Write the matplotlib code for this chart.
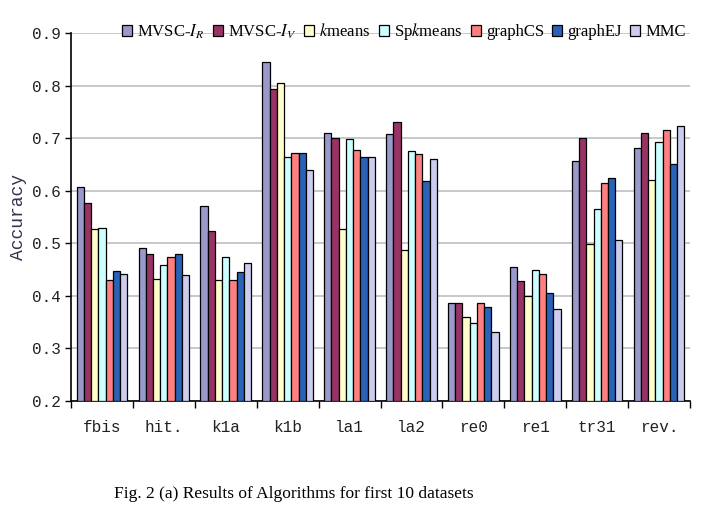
import matplotlib
matplotlib.use("Agg")
import matplotlib.pyplot as plt
import numpy as np

datasets = ["fbis", "hit.", "k1a", "k1b", "la1", "la2", "re0", "re1", "tr31", "rev."]
algorithms = ["MVSC-$I_R$", "MVSC-$I_V$", "$k$means", "Sp$k$means", "graphCS", "graphEJ", "MMC"]
colors = ["#9999CC", "#993366", "#FFFFCC", "#CCFFFF", "#FF8080", "#2A62B8", "#CCCCEE"]

mvsc_ir  = [0.607, 0.491, 0.571, 0.845, 0.709, 0.707, 0.386, 0.455, 0.657, 0.681]
mvsc_iv  = [0.576, 0.479, 0.523, 0.794, 0.700, 0.731, 0.386, 0.428, 0.700, 0.710]
kmeans   = [0.527, 0.433, 0.431, 0.804, 0.527, 0.488, 0.360, 0.399, 0.499, 0.620]
spkmeans = [0.530, 0.459, 0.474, 0.664, 0.698, 0.676, 0.348, 0.449, 0.566, 0.693]
graphcs  = [0.431, 0.474, 0.431, 0.672, 0.678, 0.670, 0.386, 0.442, 0.615, 0.715]
graphej  = [0.448, 0.479, 0.445, 0.672, 0.664, 0.619, 0.379, 0.406, 0.624, 0.651]
mmc      = [0.442, 0.440, 0.462, 0.639, 0.664, 0.661, 0.331, 0.375, 0.506, 0.724]
series = [mvsc_ir, mvsc_iv, kmeans, spkmeans, graphcs, graphej, mmc]

yticks = [0.2, 0.3, 0.4, 0.5, 0.6, 0.7, 0.8, 0.9]

plt.rcParams['mathtext.fontset'] = 'stix'

fig = plt.figure(figsize=(7.18, 5.26), dpi=100)
ax = fig.add_axes([71/718, 1-401/526, (690-71)/718, (401-33)/526])

n = len(algorithms)
w = 0.117
x = np.arange(len(datasets))
base = 0.2
for i, (vals, c, lab) in enumerate(zip(series, colors, algorithms)):
    pos = x + (i - (n-1)/2) * w
    ax.bar(pos, np.array(vals) - base, width=w, bottom=base, color=c,
           edgecolor="black", linewidth=0.9, label=lab, zorder=3)

ax.set_xlim(-0.5, len(datasets) - 0.5)
ax.set_ylim(0.2, 0.9)
ax.set_yticks(yticks)
ax.set_yticklabels([f"{t:.1f}" for t in yticks], family="Liberation Mono", fontsize=11.5, color="#222222")
ax.yaxis.grid(True, color="#c4c4c4", linewidth=1.3, zorder=0)
ax.set_axisbelow(True)

ax.set_xticks(np.arange(len(datasets) + 1) - 0.5)
ax.set_xticklabels([])
ax.set_xticks(x, minor=True)
ax.set_xticklabels(datasets, minor=True, family="Liberation Mono", fontsize=11.5, color="#222222")
ax.tick_params(axis="x", which="minor", length=0, pad=14)
ax.tick_params(axis="x", which="major", length=5, width=1, direction="out")
ax.tick_params(axis="y", length=4, width=1, direction="out", pad=3)

for s in ["top", "right"]:
    ax.spines[s].set_visible(False)
ax.spines["left"].set_linewidth(1.2)
ax.spines["bottom"].set_linewidth(1.2)

ax.set_ylabel("Accuracy", family="Liberation Mono", fontsize=13, color="#33334d", labelpad=4)

fig.legend(loc="center", bbox_to_anchor=(404/718, 1-32/526), ncol=7, frameon=False,
           prop={"family": "Liberation Serif", "size": 12},
           handlelength=0.6, handleheight=0.6, handletextpad=0.3, columnspacing=0.5,
           borderaxespad=0)

fig.text(294/718, 1-494/526, "Fig. 2 (a) Results of Algorithms for first 10 datasets",
         ha="center", va="center", family="Liberation Serif", fontsize=12.5, color="black")

fig.savefig("out.png", dpi=100)
